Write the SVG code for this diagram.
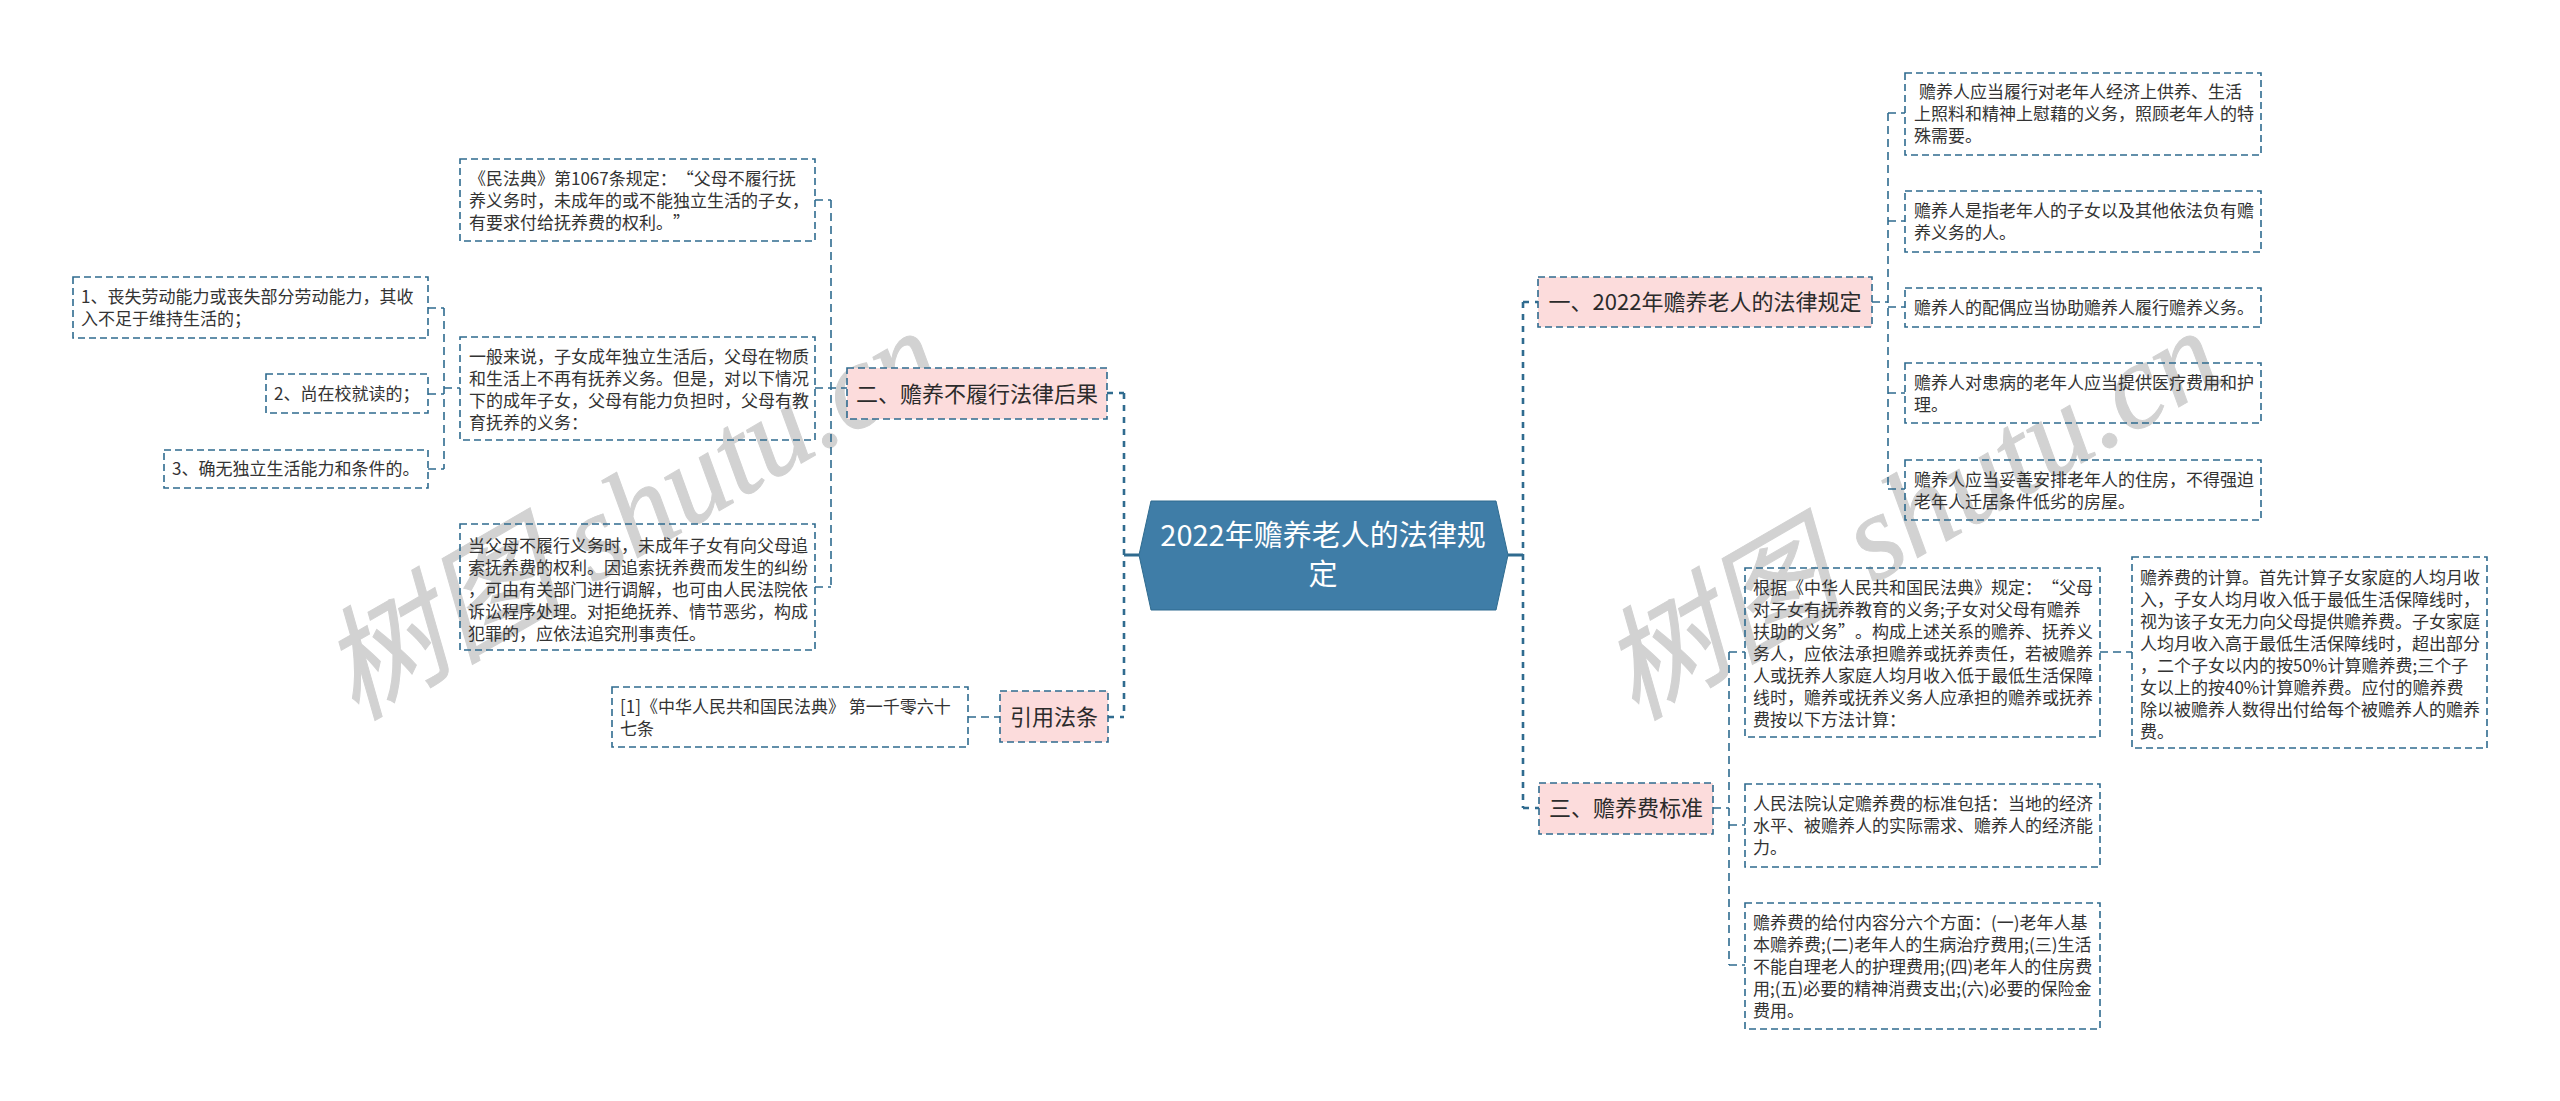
<svg xmlns="http://www.w3.org/2000/svg" width="2560" height="1101" viewBox="0 0 2560 1101" lang="zh-CN">
<style>
text{font-family:"Noto Sans CJK SC","Liberation Sans",sans-serif;fill:#333;font-size:17px;text-spacing-trim:space-all}
.wm{font-family:"Liberation Serif","Noto Sans CJK SC",serif;font-style:italic;font-size:122px;fill:#d2d2d2;stroke:#d2d2d2;stroke-width:1}
.box{fill:none;stroke:#2f6b8f;stroke-width:1.6;stroke-dasharray:7 4}
.sub{fill:#fcdcdc;stroke:#2f6b8f;stroke-width:1.6;stroke-dasharray:7 4}
.sub-t{font-size:22px;fill:#2b2b2b;text-anchor:middle}
.root{fill:#3f7da7;stroke:#2f6b8f;stroke-width:1}
.root-t{font-size:29px;fill:#fff;text-anchor:middle}
.l1{fill:none;stroke:#2f6b8f;stroke-width:2.6;stroke-dasharray:6 6}
.l0{fill:none;stroke:#2f6b8f;stroke-width:3}
.l2{fill:none;stroke:#2f6b8f;stroke-width:1.6;stroke-dasharray:8 5}
</style>
<rect width="2560" height="1101" fill="#fff"/>
<g id="watermarks">
<text class="wm" transform="translate(355 721) rotate(-30)">树图 shutu.cn</text>
<text class="wm" transform="translate(1635 721) rotate(-30)">树图 shutu.cn</text>
</g>
<g id="connectors">
<path class="l0" d="M1124 555H1139M1508 555H1523"/>
<path class="l1" d="M1124 393V717M1523 302V808"/>
<path class="l1" d="M1107 393H1124M1108 717H1124M1523 302H1538M1523 808H1539"/>
<path class="l2" d="M968 717H1000"/>
<path class="l2" d="M831 200V587M815 200H831M815 388H847M815 587H831"/>
<path class="l2" d="M444 308V469M428 308H444M428 394H444M428 469H444M444 388H460"/>
<path class="l2" d="M1888 113V489M1872 302H1888M1888 113H1905M1888 221H1905M1888 307H1905M1888 393H1905M1888 489H1905"/>
<path class="l2" d="M1729 652V965M1713 808H1729M1729 652H1745M1729 825H1745M1729 965H1745M2100 652H2132"/>
</g>
<g id="root">
<polygon class="root" points="1151,501 1496,501 1508,555 1496,610 1151,610 1139,555"/>
<text class="root-t" x="1323" y="546">2022年赡养老人的法律规</text>
<text class="root-t" x="1323" y="585">定</text>
</g>
<g id="n-er">
<rect class="sub" x="847" y="368" width="260" height="51"/>
<text class="sub-t" x="977" y="402">二、赡养不履行法律后果</text>
</g>
<g id="n-yin">
<rect class="sub" x="1000" y="691" width="108" height="51"/>
<text class="sub-t" x="1054" y="725">引用法条</text>
</g>
<g id="n-yi">
<rect class="sub" x="1538" y="277" width="334" height="50"/>
<text class="sub-t" x="1705" y="310">一、2022年赡养老人的法律规定</text>
</g>
<g id="n-san">
<rect class="sub" x="1539" y="783" width="174" height="51"/>
<text class="sub-t" x="1626" y="816">三、赡养费标准</text>
</g>
<g id="l-a">
<rect class="box" x="460" y="159" width="355" height="82"/>
<text y="185"><tspan x="469">《民法典》第1067条规定：“父母不履行抚</tspan><tspan x="469" dy="22">养义务时，未成年的或不能独立生活的子女，</tspan><tspan x="469" dy="22">有要求付给抚养费的权利。”</tspan></text>
</g>
<g id="l-g">
<rect class="box" x="460" y="337" width="355" height="103"/>
<text y="363"><tspan x="469">一般来说，子女成年独立生活后，父母在物质</tspan><tspan x="469" dy="22">和生活上不再有抚养义务。但是，对以下情况</tspan><tspan x="469" dy="22">下的成年子女，父母有能力负担时，父母有教</tspan><tspan x="469" dy="22">育抚养的义务：</tspan></text>
</g>
<g id="l-1">
<rect class="box" x="73" y="277" width="355" height="61"/>
<text y="303"><tspan x="81">1、丧失劳动能力或丧失部分劳动能力，其收</tspan><tspan x="81" dy="22">入不足于维持生活的；</tspan></text>
</g>
<g id="l-2">
<rect class="box" x="266" y="374" width="162" height="39"/>
<text x="274" y="400">2、尚在校就读的；</text>
</g>
<g id="l-3">
<rect class="box" x="164" y="450" width="264" height="38"/>
<text x="172" y="475">3、确无独立生活能力和条件的。</text>
</g>
<g id="l-d">
<rect class="box" x="460" y="524" width="355" height="126"/>
<text y="552"><tspan x="468">当父母不履行义务时，未成年子女有向父母追</tspan><tspan x="468" dy="22">索抚养费的权利。因追索抚养费而发生的纠纷</tspan><tspan x="468" dy="22">，可由有关部门进行调解，也可由人民法院依</tspan><tspan x="468" dy="22">诉讼程序处理。对拒绝抚养、情节恶劣，构成</tspan><tspan x="468" dy="22">犯罪的，应依法追究刑事责任。</tspan></text>
</g>
<g id="l-law">
<rect class="box" x="612" y="687" width="356" height="60"/>
<text y="713"><tspan x="620">[1]《中华人民共和国民法典》 第一千零六十</tspan><tspan x="620" dy="22">七条</tspan></text>
</g>
<g id="r-a">
<rect class="box" x="1905" y="73" width="356" height="82"/>
<text y="98"><tspan x="1919">赡养人应当履行对老年人经济上供养、生活</tspan><tspan x="1914" dy="22">上照料和精神上慰藉的义务，照顾老年人的特</tspan><tspan x="1914" dy="22">殊需要。</tspan></text>
</g>
<g id="r-b">
<rect class="box" x="1905" y="191" width="356" height="61"/>
<text y="217"><tspan x="1914">赡养人是指老年人的子女以及其他依法负有赡</tspan><tspan x="1914" dy="22">养义务的人。</tspan></text>
</g>
<g id="r-c">
<rect class="box" x="1905" y="288" width="356" height="39"/>
<text x="1914" y="314">赡养人的配偶应当协助赡养人履行赡养义务。</text>
</g>
<g id="r-d">
<rect class="box" x="1905" y="363" width="356" height="60"/>
<text y="389"><tspan x="1914">赡养人对患病的老年人应当提供医疗费用和护</tspan><tspan x="1914" dy="22">理。</tspan></text>
</g>
<g id="r-e">
<rect class="box" x="1905" y="460" width="356" height="60"/>
<text y="486"><tspan x="1914">赡养人应当妥善安排老年人的住房，不得强迫</tspan><tspan x="1914" dy="22">老年人迁居条件低劣的房屋。</tspan></text>
</g>
<g id="r-f">
<rect class="box" x="1745" y="568" width="355" height="169"/>
<text y="594"><tspan x="1753">根据《中华人民共和国民法典》规定：“父母</tspan><tspan x="1753" dy="22">对子女有抚养教育的义务;子女对父母有赡养</tspan><tspan x="1753" dy="22">扶助的义务”。构成上述关系的赡养、抚养义</tspan><tspan x="1753" dy="22">务人，应依法承担赡养或抚养责任，若被赡养</tspan><tspan x="1753" dy="22">人或抚养人家庭人均月收入低于最低生活保障</tspan><tspan x="1753" dy="22">线时，赡养或抚养义务人应承担的赡养或抚养</tspan><tspan x="1753" dy="22">费按以下方法计算：</tspan></text>
</g>
<g id="r-g">
<rect class="box" x="2132" y="557" width="355" height="191"/>
<text y="584"><tspan x="2140">赡养费的计算。首先计算子女家庭的人均月收</tspan><tspan x="2140" dy="22">入，子女人均月收入低于最低生活保障线时，</tspan><tspan x="2140" dy="22">视为该子女无力向父母提供赡养费。子女家庭</tspan><tspan x="2140" dy="22">人均月收入高于最低生活保障线时，超出部分</tspan><tspan x="2140" dy="22">，二个子女以内的按50%计算赡养费;三个子</tspan><tspan x="2140" dy="22">女以上的按40%计算赡养费。应付的赡养费</tspan><tspan x="2140" dy="22">除以被赡养人数得出付给每个被赡养人的赡养</tspan><tspan x="2140" dy="22">费。</tspan></text>
</g>
<g id="r-h">
<rect class="box" x="1745" y="784" width="355" height="83"/>
<text y="810"><tspan x="1753">人民法院认定赡养费的标准包括：当地的经济</tspan><tspan x="1753" dy="22">水平、被赡养人的实际需求、赡养人的经济能</tspan><tspan x="1753" dy="22">力。</tspan></text>
</g>
<g id="r-i">
<rect class="box" x="1745" y="903" width="355" height="126"/>
<text y="929"><tspan x="1753">赡养费的给付内容分六个方面：(一)老年人基</tspan><tspan x="1753" dy="22">本赡养费;(二)老年人的生病治疗费用;(三)生活</tspan><tspan x="1753" dy="22">不能自理老人的护理费用;(四)老年人的住房费</tspan><tspan x="1753" dy="22">用;(五)必要的精神消费支出;(六)必要的保险金</tspan><tspan x="1753" dy="22">费用。</tspan></text>
</g>
</svg>
